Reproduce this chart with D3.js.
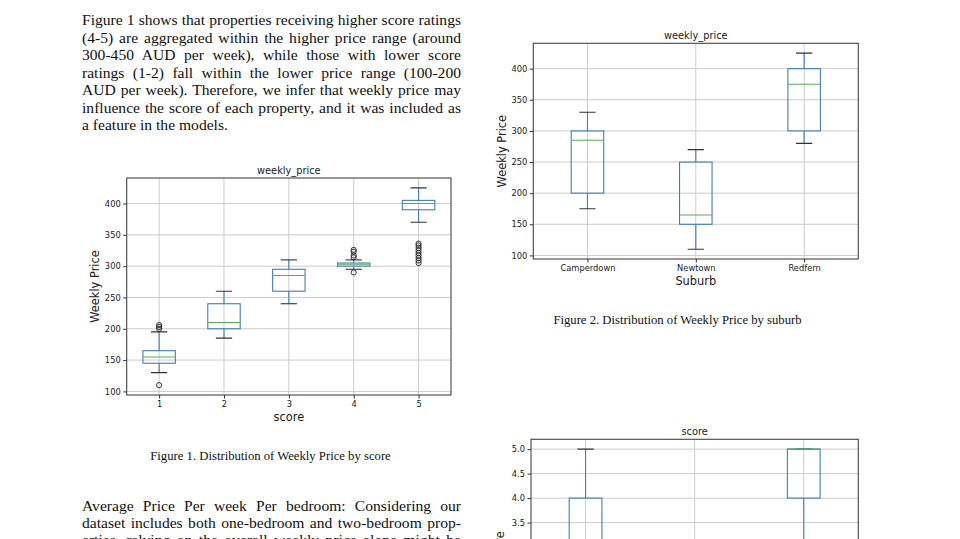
<!DOCTYPE html>
<html><head><meta charset="utf-8">
<script src="https://cdn.jsdelivr.net/npm/d3@7"></script>
<style>
html,body{margin:0;padding:0;background:#fff;}
svg{display:block;}
.para{font-family:"Liberation Serif","Times New Roman",serif;font-size:15.6px;fill:#111;}
.cap{font-family:"Liberation Serif","Times New Roman",serif;font-size:12.7px;fill:#111;}
.chart text{font-family:"DejaVu Sans",sans-serif;fill:#222;}
</style></head><body>
<script>
// ---------- text ----------
const paraTop = [
  "Figure 1 shows that properties receiving higher score ratings",
  "(4-5) are aggregated within the higher price range (around",
  "300-450 AUD per week), while those with lower score",
  "ratings (1-2) fall within the lower price range (100-200",
  "AUD per week). Therefore, we infer that weekly price may",
  "influence the score of each property, and it was included as",
  "a feature in the models."
];
const paraBottom = [
  "Average Price Per week Per bedroom: Considering our",
  "dataset includes both one-bedroom and two-bedroom prop-",
  "erties, relying on the overall weekly price alone might be"
];
const caption1 = "Figure 1. Distribution of Weekly Price by score";
const caption2 = "Figure 2. Distribution of Weekly Price by suburb";

// ---------- chart 1: weekly_price by score ----------
const scoreCats = ["1","2","3","4","5"];
const scoreWLow  = [130, 185, 240, 295, 370];
const scoreQ1    = [145, 200, 260, 300, 390];
const scoreMed   = [155, 210, 285, 303, 400];
const scoreQ3    = [165, 240, 295, 305, 405];
const scoreWHigh = [195, 260, 310, 310, 425];
const scoreFliers = [[110, 200, 203, 206], [], [], [290, 314, 317, 323, 326], [305, 309, 313, 317, 321, 325, 329, 333, 336]];
const priceTicks = [100, 150, 200, 250, 300, 350, 400];

// ---------- chart 2: weekly_price by suburb ----------
const suburbCats = ["Camperdown", "Newtown", "Redfern"];
const subWLow  = [175, 110, 280];
const subQ1    = [200, 150, 300];
const subMed   = [285, 165, 375];
const subQ3    = [300, 250, 400];
const subWHigh = [330, 270, 425];

// ---------- chart 3: score by suburb ----------
const sc3WLow  = [2, 1, 3];
const sc3Q1    = [3, 1, 4];
const sc3Med   = [3, 2, 5];
const sc3Q3    = [4, 3, 5];
const sc3WHigh = [5, 3, 5];
const scoreTicks = [1.0, 1.5, 2.0, 2.5, 3.0, 3.5, 4.0, 4.5, 5.0];

const svg = d3.select("body").append("svg").attr("width", 960).attr("height", 539);
svg.append("rect").attr("width", 960).attr("height", 539).attr("fill", "#fff");

function writePara(lines, x, y0, lh, width, lastLeft) {
  const g = svg.append("g").attr("class", "para");
  lines.forEach((s, i) => {
    const t = g.append("text").attr("x", x).attr("y", y0 + i * lh).text(s);
    const last = lastLeft && i === lines.length - 1;
    if (!last) {
      const len = t.node().getComputedTextLength();
      const n = (s.match(/ /g) || []).length;
      if (n) t.style("word-spacing", ((width - len) / n) + "px");
    }
  });
}
writePara(paraTop, 82, 25, 17.5, 379, true);
writePara(paraBottom, 82, 511, 17.2, 379, false);

svg.append("text").attr("class", "cap").attr("x", 270.5).attr("y", 459.5).attr("text-anchor", "middle").text(caption1);
svg.append("text").attr("class", "cap").attr("x", 677.5).attr("y", 323.5).attr("text-anchor", "middle").text(caption2);

let clipId = 0;
function boxChart(c) {
  const g = svg.append("g").attr("class", "chart");
  const x = d3.scalePoint().domain(c.cats).range([c.x0, c.x1]).padding(0.5);
  const y = d3.scaleLinear().domain(c.yDomain).range([c.y1, c.y0]);
  const id = "clip" + (clipId++);
  g.append("clipPath").attr("id", id).append("rect")
    .attr("x", c.x0).attr("y", c.y0).attr("width", c.x1 - c.x0).attr("height", c.y1 - c.y0);
  const inner = g.append("g").attr("clip-path", `url(#${id})`);
  // grid
  inner.selectAll(".gy").data(c.ticks).join("line")
    .attr("x1", c.x0).attr("x2", c.x1).attr("y1", d => y(d)).attr("y2", d => y(d))
    .attr("stroke", "#cbcbcb").attr("stroke-width", 1);
  inner.selectAll(".gx").data(c.cats).join("line")
    .attr("x1", d => x(d)).attr("x2", d => x(d)).attr("y1", c.y0).attr("y2", c.y1)
    .attr("stroke", "#cbcbcb").attr("stroke-width", 1);
  const bw = x.step() * c.wf;
  const capW = bw / 2;
  const blue = "#3f7fb3";
  c.cats.forEach((cat, i) => {
    const cx = x(cat);
    inner.append("line").attr("x1", cx).attr("x2", cx).attr("y1", y(c.q3[i])).attr("y2", y(c.wh[i])).attr("stroke", blue).attr("stroke-width", 1.1);
    inner.append("line").attr("x1", cx).attr("x2", cx).attr("y1", y(c.q1[i])).attr("y2", y(c.wl[i])).attr("stroke", blue).attr("stroke-width", 1.1);
    [c.wl[i], c.wh[i]].forEach(v => inner.append("line").attr("x1", cx - capW / 2).attr("x2", cx + capW / 2).attr("y1", y(v)).attr("y2", y(v)).attr("stroke", "#333").attr("stroke-width", 1.1));
    inner.append("rect").attr("x", cx - bw / 2).attr("width", bw)
      .attr("y", y(c.q3[i])).attr("height", Math.max(0.5, y(c.q1[i]) - y(c.q3[i])))
      .attr("fill", "none").attr("stroke", blue).attr("stroke-width", 1.1);
    inner.append("line").attr("x1", cx - bw / 2).attr("x2", cx + bw / 2).attr("y1", y(c.med[i])).attr("y2", y(c.med[i])).attr("stroke", "#5aac5a").attr("stroke-width", 1.1);
    if (c.fliers) c.fliers[i].forEach(v => inner.append("circle").attr("cx", cx).attr("cy", y(v)).attr("r", 2.6).attr("fill", "none").attr("stroke", "#222").attr("stroke-width", 0.9));
  });
  const ay = g.append("g").attr("transform", `translate(${c.x0},0)`)
    .call(d3.axisLeft(y).tickValues(c.ticks).tickSize(3.5).tickPadding(2.5).tickFormat(c.fmt));
  ay.select(".domain").remove();
  ay.selectAll("text").attr("font-size", 8.3).attr("fill", "#222");
  ay.selectAll("line").attr("stroke", "#333");
  const ax = g.append("g").attr("transform", `translate(0,${c.y1})`)
    .call(d3.axisBottom(x).tickSize(3.5).tickPadding(2.5));
  ax.select(".domain").remove();
  ax.selectAll("text").attr("font-size", 8.3).attr("fill", "#222");
  ax.selectAll("line").attr("stroke", "#333");
  g.append("rect").attr("x", c.x0).attr("y", c.y0).attr("width", c.x1 - c.x0).attr("height", c.y1 - c.y0)
    .attr("fill", "none").attr("stroke", "#444").attr("stroke-width", 1.1);
  g.append("text").attr("x", (c.x0 + c.x1) / 2).attr("y", c.y0 - 4).attr("text-anchor", "middle").attr("font-size", 9.8).text(c.title);
  g.append("text").attr("x", (c.x0 + c.x1) / 2).attr("y", c.y1 + 26).attr("text-anchor", "middle").attr("font-size", 11.4).text(c.xlabel);
  const ly = (c.y0 + c.y1) / 2;
  g.append("text").attr("transform", `translate(${c.ylx},${ly}) rotate(-90)`).attr("text-anchor", "middle").attr("font-size", 11.4).text(c.ylabel);
}

boxChart({cats: scoreCats, wl: scoreWLow, q1: scoreQ1, med: scoreMed, q3: scoreQ3, wh: scoreWHigh, fliers: scoreFliers,
  x0: 126.7, x1: 451, y0: 178, y1: 395, yDomain: [94.25, 440.75], ticks: priceTicks, fmt: d3.format("d"), wf: 0.5,
  title: "weekly_price", xlabel: "score", ylabel: "Weekly Price", ylx: 99});
boxChart({cats: suburbCats, wl: subWLow, q1: subQ1, med: subMed, q3: subQ3, wh: subWHigh,
  x0: 533.3, x1: 858.3, y0: 43.3, y1: 259, yDomain: [94.25, 440.75], ticks: priceTicks, fmt: d3.format("d"), wf: 0.3,
  title: "weekly_price", xlabel: "Suburb", ylabel: "Weekly Price", ylx: 506});
boxChart({cats: suburbCats, wl: sc3WLow, q1: sc3Q1, med: sc3Med, q3: sc3Q3, wh: sc3WHigh,
  x0: 531, x1: 858.3, y0: 439.3, y1: 655, yDomain: [0.8, 5.2], ticks: scoreTicks, fmt: d3.format(".1f"), wf: 0.3,
  title: "score", xlabel: "Suburb", ylabel: "Score", ylx: 504});
</script>
</body></html>
